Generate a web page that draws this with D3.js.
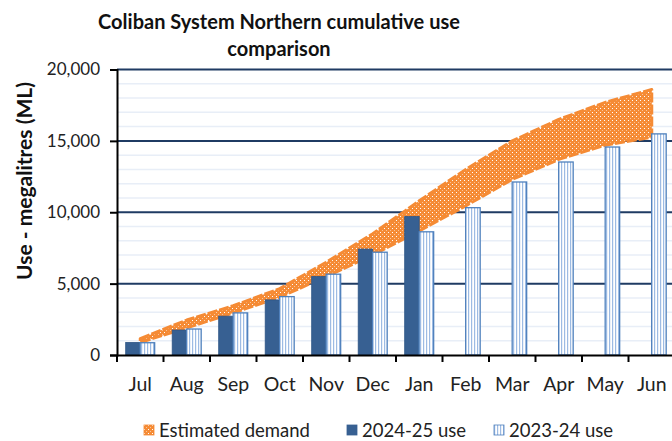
<!DOCTYPE html>
<html>
<head>
<meta charset="utf-8">
<script src="https://cdn.jsdelivr.net/npm/d3@7"></script>
<style>
  body { margin: 0; background: #fff; }
  svg { display: block; font-family: Lato, "Open Sans", sans-serif; }
</style>
</head>
<body>
<div id="chart"></div>
<script>
const months = ["Jul", "Aug", "Sep", "Oct", "Nov", "Dec", "Jan", "Feb", "Mar", "Apr", "May", "Jun"];
const use2425 = [880, 1750, 2720, 3860, 5500, 7420, 9700];
const use2324 = [860, 1820, 2950, 4090, 5660, 7200, 8630, 10320, 12120, 13520, 14570, 15490];
const demandLow = [880, 1900, 2950, 4050, 5500, 7000, 8700, 10450, 12300, 13700, 14700, 15250];
const demandHigh = [1150, 2450, 3450, 4650, 6500, 8500, 10800, 13000, 15000, 16500, 17700, 18600];
const yTicks = [0, 5000, 10000, 15000, 20000];
const seriesNames = ["2024-25 use", "2023-24 use"];

const width = 672, height = 441;
const margin = ({top: 69.5, left: 117, bottom: 355});
const step = 46.5;

const svg = d3.select("#chart").append("svg")
  .attr("width", width)
  .attr("height", height)
  .attr("viewBox", [0, 0, width, height]);

const defs = svg.append("defs");

// orange "confetti" fill used for the demand band
const pOrange = defs.append("pattern")
  .attr("id", "orangePat")
  .attr("patternUnits", "userSpaceOnUse")
  .attr("width", 4).attr("height", 4);
pOrange.append("rect").attr("width", 4).attr("height", 4).attr("fill", "#f58b35");
pOrange.append("rect").attr("x", 0).attr("y", 0).attr("width", 1).attr("height", 1).attr("fill", "#fff");
pOrange.append("rect").attr("x", 2).attr("y", 2).attr("width", 1).attr("height", 1).attr("fill", "#fbc497");

// vertical stripes for last year's bars
const pStripe = defs.append("pattern")
  .attr("id", "stripePat")
  .attr("patternUnits", "userSpaceOnUse")
  .attr("width", 3).attr("height", 4);
pStripe.append("rect").attr("width", 3).attr("height", 4).attr("fill", "#ffffff");
pStripe.append("rect").attr("x", 0).attr("width", 1.2).attr("height", 4).attr("fill", "#9dbbe3");

const x = d3.scaleBand()
  .domain(months)
  .range([margin.left, margin.left + step * months.length]);

const xs = d3.scaleBand()
  .domain(seriesNames)
  .range([x.bandwidth() * 0.187, x.bandwidth() * 0.81]);

const y = d3.scaleLinear()
  .domain([0, 20000])
  .range([margin.bottom, margin.top]);

// minor gridlines every 1000
svg.append("g")
  .selectAll("line")
  .data(d3.range(1000, 20000, 1000).filter(d => d % 5000 !== 0))
  .join("line")
    .attr("x1", margin.left).attr("x2", width)
    .attr("y1", d => y(d)).attr("y2", d => y(d))
    .attr("stroke", "#e8eef7")
    .attr("stroke-width", 1.5);

// major gridlines
svg.append("g")
  .selectAll("line")
  .data(yTicks.filter(d => d > 0))
  .join("line")
    .attr("x1", margin.left).attr("x2", width)
    .attr("y1", d => y(d)).attr("y2", d => y(d))
    .attr("stroke", "#1f3b63")
    .attr("stroke-width", 2);

// estimated demand band
const band = months.map((m, i) => ({m, lo: demandLow[i], hi: demandHigh[i]}));
const area = d3.area()
  .x(d => x(d.m) + x.bandwidth() / 2)
  .y0(d => y(d.lo))
  .y1(d => y(d.hi));

svg.append("path")
  .datum(band)
  .attr("d", area)
  .attr("fill", "url(#orangePat)")
  .attr("stroke", "#f58b35")
  .attr("stroke-width", 3)
  .attr("stroke-dasharray", "10 2")
  .attr("stroke-linejoin", "round");

// bars
svg.append("g")
  .selectAll("rect")
  .data(use2425.map((v, i) => ({m: months[i], v})))
  .join("rect")
    .attr("x", d => x(d.m) + xs(seriesNames[0]))
    .attr("y", d => y(d.v))
    .attr("width", xs.bandwidth())
    .attr("height", d => y(0) - y(d.v))
    .attr("fill", "#376092")
    .attr("stroke", "#2e5585")
    .attr("stroke-width", 0.8);

svg.append("g")
  .selectAll("rect")
  .data(use2324.map((v, i) => ({m: months[i], v})))
  .join("rect")
    .attr("x", d => x(d.m) + xs(seriesNames[1]))
    .attr("y", d => y(d.v))
    .attr("width", xs.bandwidth())
    .attr("height", d => y(0) - y(d.v))
    .attr("fill", "url(#stripePat)")
    .attr("stroke", "#4f81bd")
    .attr("stroke-width", 1.3);

// axes
const yAxis = svg.append("g")
  .attr("transform", `translate(${margin.left},0)`)
  .call(d3.axisLeft(y).tickValues(yTicks).tickSize(7).tickPadding(10).tickFormat(d3.format(",")))
  .call(g => g.select(".domain").attr("stroke", "#000").attr("stroke-width", 2))
  .call(g => g.selectAll(".tick line").attr("stroke", "#000").attr("stroke-width", 2))
  .call(g => g.selectAll(".tick text")
    .attr("font-family", "Lato, sans-serif")
    .attr("font-size", 17)
    .attr("fill", "#222"));

const xAxis = svg.append("g")
  .attr("transform", `translate(0,${margin.bottom})`)
  .call(d3.axisBottom(x).tickSize(0).tickPadding(22).tickSizeOuter(0))
  .call(g => g.select(".domain").attr("stroke", "#000").attr("stroke-width", 2))
  .call(g => g.selectAll(".tick text")
    .attr("font-family", "Lato, sans-serif")
    .attr("font-size", 19.5)
    .attr("fill", "#222"));

// tick marks sit on the category boundaries
xAxis.append("g")
  .selectAll("line")
  .data(months)
  .join("line")
    .attr("x1", d => x(d)).attr("x2", d => x(d))
    .attr("y1", 0).attr("y2", 7)
    .attr("stroke", "#000")
    .attr("stroke-width", 2);

// title
svg.append("text")
  .attr("x", 279).attr("y", 29)
  .attr("text-anchor", "middle")
  .attr("font-size", 20)
  .attr("font-weight", "bold")
  .attr("fill", "#111")
  .text("Coliban System Northern cumulative use");
svg.append("text")
  .attr("x", 279).attr("y", 56)
  .attr("text-anchor", "middle")
  .attr("font-size", 20)
  .attr("font-weight", "bold")
  .attr("fill", "#111")
  .text("comparison");

svg.append("text")
  .attr("transform", "translate(32,181) rotate(-90)")
  .attr("text-anchor", "middle")
  .attr("font-size", 21)
  .attr("font-weight", "bold")
  .attr("fill", "#111")
  .text("Use - megalitres (ML)");

// legend
const legend = [
  {label: "Estimated demand", x: 144, fill: "url(#orangePat)", stroke: "#f58b35"},
  {label: seriesNames[0], x: 347, fill: "#376092", stroke: "#376092"},
  {label: seriesNames[1], x: 494, fill: "url(#stripePat)", stroke: "#4f81bd"}
];
const lg = svg.append("g")
  .selectAll("g")
  .data(legend)
  .join("g")
    .attr("transform", d => `translate(${d.x},425)`);
lg.append("rect")
  .attr("width", 10).attr("height", 10)
  .attr("fill", d => d.fill)
  .attr("stroke", d => d.stroke)
  .attr("stroke-width", 0.8);
lg.append("text")
  .attr("x", 15).attr("y", 11.5)
  .attr("font-size", 18.5)
  .attr("fill", "#222")
  .text(d => d.label);
</script>
</body>
</html>
